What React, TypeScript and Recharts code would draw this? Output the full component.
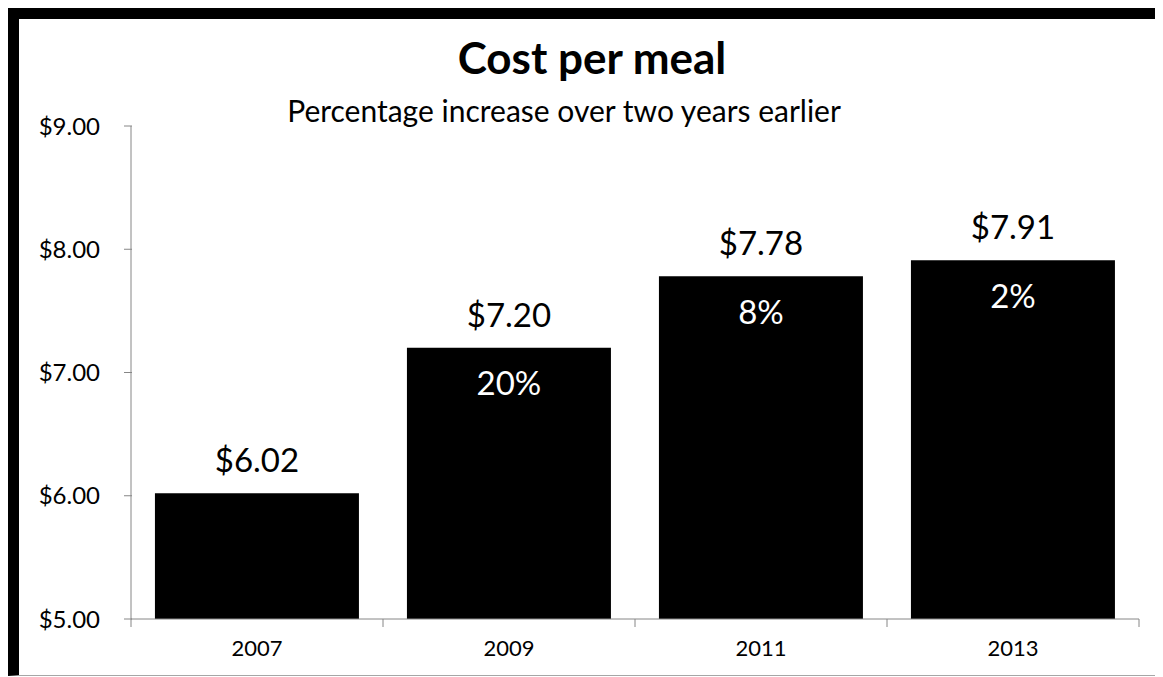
import { BarChart, Bar, XAxis, YAxis, LabelList } from 'recharts';

const years = ['2007', '2009', '2011', '2013'];
const costs = [6.02, 7.2, 7.78, 7.91];
const pctLabels = ['', '20%', '8%', '2%'];
const yTicks = [5, 6, 7, 8, 9];

const data = years.map((year, i) => ({ year, cost: costs[i], pct: pctLabels[i] }));

const FONT = 'Lato, "Open Sans", sans-serif';
const AXIS_GRAY = '#868686';

// y tick: small gray mark left of the axis plus the dollar label
const YTick = (props: any) => {
  const { x, y, payload } = props;
  return (
    <g>
      <line x1={x - 7} y1={y} x2={x + 1} y2={y} stroke={AXIS_GRAY} strokeWidth={1} />
      <text x={x - 31} y={y} dy="0.36em" textAnchor="end" fill="#000" fontSize={24} fontFamily={FONT}>
        {`$${Number(payload.value).toFixed(2)}`}
      </text>
    </g>
  );
};

// x tick: year label at the band centre, gray marks on the band edges (Excel style)
const CatTick = (props: any) => {
  const { x, y, payload, index } = props;
  const half = payload && payload.offset ? payload.offset : 126;
  const last = index === years.length - 1;
  return (
    <g>
      <line x1={x - half} y1={y} x2={x - half} y2={y + 8} stroke={AXIS_GRAY} strokeWidth={1} />
      {last && <line x1={x + half} y1={y} x2={x + half} y2={y + 8} stroke={AXIS_GRAY} strokeWidth={1} />}
      <text x={x} y={y + 21} dy="0.71em" textAnchor="middle" fill="#000" fontSize={22} fontFamily={FONT}>
        {payload.value}
      </text>
    </g>
  );
};

export default function App() {
  return (
    <div
      style={{
        position: 'relative',
        width: 1142,
        height: 656,
        background: '#fff',
        borderLeft: '11px solid #000',
        borderTop: '11px solid #000',
        borderRight: '1px solid #a6a6a6',
        borderBottom: '1px solid #a6a6a6',
        fontFamily: FONT,
      }}
    >
      <div
        style={{
          position: 'absolute',
          left: 273,
          width: 600,
          top: 16,
          textAlign: 'center',
          fontSize: 44,
          lineHeight: '44px',
          fontWeight: 700,
          color: '#000',
        }}
      >
        Cost per meal
      </div>
      <div
        style={{
          position: 'absolute',
          left: 145,
          width: 800,
          top: 76,
          textAlign: 'center',
          fontSize: 30,
          lineHeight: '30px',
          color: '#000',
        }}
      >
        Percentage increase over two years earlier
      </div>
      <BarChart
        width={1142}
        height={656}
        data={data}
        margin={{ top: 107, right: 22, left: 0, bottom: 0 }}
        barCategoryGap="9.5%"
        style={{ fontFamily: FONT }}
      >
        <XAxis
          dataKey="year"
          height={56}
          tickSize={0}
          tickMargin={0}
          tickLine={false}
          axisLine={{ stroke: AXIS_GRAY }}
          tick={CatTick}
          interval={0}
        />
        <YAxis
          width={112}
          domain={[5, 9]}
          ticks={yTicks}
          tickSize={0}
          tickMargin={0}
          tickLine={false}
          axisLine={{ stroke: AXIS_GRAY }}
          tick={YTick}
        />
        <Bar dataKey="cost" fill="#000" isAnimationActive={false}>
          <LabelList
            dataKey="cost"
            position="top"
            offset={21}
            formatter={(v: number) => `$${v.toFixed(2)}`}
            style={{ fill: '#000', fontSize: 33 }}
          />
          <LabelList
            dataKey="pct"
            position="insideTop"
            offset={24}
            style={{ fill: '#fff', fontSize: 33 }}
          />
        </Bar>
      </BarChart>
    </div>
  );
}
